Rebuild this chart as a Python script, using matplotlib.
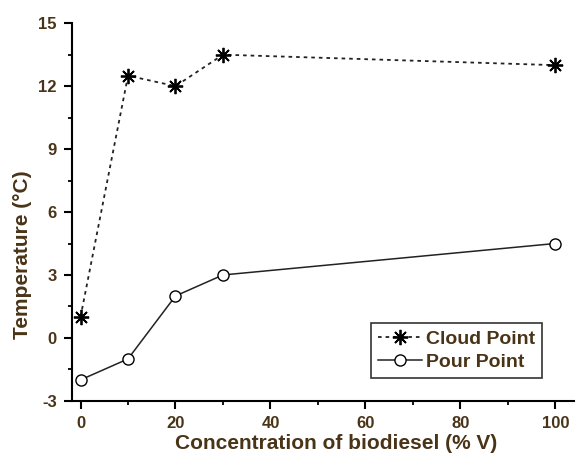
import matplotlib.pyplot as plt
from matplotlib.ticker import MultipleLocator

plt.rcParams['font.family'] = ['Liberation Sans', 'DejaVu Sans']
plt.rcParams['axes.unicode_minus'] = False

conc = [0, 10, 20, 30, 100]
cloud_point = [1, 12.5, 12, 13.5, 13]
pour_point = [-2, -1, 2, 3, 4.5]

txt_color = '#4a3418'

fig = plt.figure(figsize=(5.76, 4.55), dpi=100)
ax = fig.add_axes([0.125, 0.119, 0.872, 0.830])

ax.plot(conc, cloud_point, linestyle=(0, (2, 2.2)), color='#222222', linewidth=1.3,
        marker=(8, 2, 0), markersize=11, markeredgewidth=1.3, markeredgecolor='black',
        label='Cloud Point')
ax.plot(conc, pour_point, linestyle='-', color='#222222', linewidth=1.1,
        marker='o', markersize=8, markerfacecolor='white', markeredgecolor='black',
        markeredgewidth=1.0, label='Pour Point')

ax.set_xlim(-1.8, 104)
ax.set_ylim(-3, 15)
ax.xaxis.set_major_locator(MultipleLocator(20))
ax.xaxis.set_minor_locator(MultipleLocator(10))
ax.yaxis.set_major_locator(MultipleLocator(3))
ax.yaxis.set_minor_locator(MultipleLocator(1.5))

for s in ['top', 'right']:
    ax.spines[s].set_visible(False)
for s in ['left', 'bottom']:
    ax.spines[s].set_linewidth(1.5)

ax.tick_params(which='major', direction='out', length=6, width=1.5,
               labelsize=12, labelcolor=txt_color, pad=5)
ax.tick_params(which='minor', direction='out', length=3, width=1.3)
for lab in ax.get_xticklabels() + ax.get_yticklabels():
    lab.set_fontweight('bold')

ax.set_xlabel('Concentration of biodiesel (% V)', fontsize=15, fontweight='bold',
              color=txt_color)
ax.xaxis.set_label_coords(0.526, -0.088)
ax.set_ylabel('Temperature (°C)', fontsize=15, fontweight='bold',
              color=txt_color)
ax.yaxis.set_label_coords(-0.08, 0.386)

leg = ax.legend(loc='lower right', bbox_to_anchor=(0.936, 0.061), frameon=True,
                fancybox=False, edgecolor='black', fontsize=14, handlelength=2.3,
                borderpad=0.35, borderaxespad=0, labelspacing=0.3, handletextpad=0.2)
leg.get_frame().set_linewidth(1.2)
for t in leg.get_texts():
    t.set_color(txt_color)
    t.set_fontweight('bold')

fig.savefig('out.png', dpi=100)
